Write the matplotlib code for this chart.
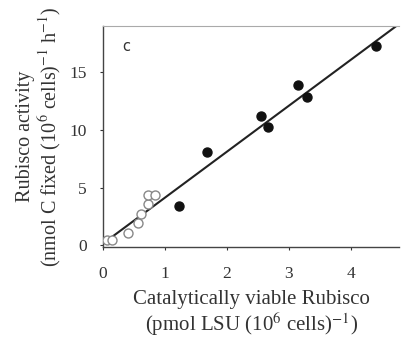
import matplotlib
matplotlib.use("Agg")
import matplotlib.pyplot as plt
import numpy as np

# Data
filled_x = [1.22, 1.675, 2.55, 2.66, 3.15, 3.30, 4.41]
filled_y = [3.42, 8.06, 11.2, 10.27, 13.9, 12.85, 17.3]
open_x = [0.065, 0.145, 0.41, 0.56, 0.62, 0.72, 0.73, 0.845]
open_y = [0.43, 0.45, 1.09, 1.95, 2.67, 3.6, 4.4, 4.4]
fit_x = [0.05, 4.75]
fit_slope = 3.98
fit_intercept = 0.15
xticks = [0, 1, 2, 3, 4]
yticks = [0, 5, 10, 15]

plt.rcParams['font.family'] = ['Liberation Serif', 'DejaVu Serif']
plt.rcParams['mathtext.fontset'] = 'stix'

fig = plt.figure(figsize=(4.04, 3.46), dpi=100)
ax = fig.add_axes([0.255, 0.286, 0.733, 0.639])

fx = np.array(fit_x)
ax.plot(fx, fit_intercept + fit_slope * fx, color='#222222', lw=1.5, zorder=2)
ax.scatter(open_x, open_y, s=42, facecolors='white', edgecolors='#888888', linewidths=1.0, zorder=3)
ax.scatter(filled_x, filled_y, s=42, color='#111111', zorder=4)

ax.set_xlim(0, 4.78)
ax.set_ylim(-0.15, 19)
ax.set_xticks(xticks)
ax.set_yticks(yticks)
ax.tick_params(direction='out', length=2.5, width=0.8, labelsize=12.5, colors='#333333')
ax.tick_params(axis='x', pad=11)
ax.tick_params(axis='y', pad=9)
for s in ['left', 'bottom']:
    ax.spines[s].set_color('#444444')
    ax.spines[s].set_linewidth(1.0)
ax.spines['top'].set_color('#aaaaaa')
ax.spines['top'].set_linewidth(0.8)
ax.spines['right'].set_visible(False)

ax.text(0.38, 17.2, 'c', family='DejaVu Sans', fontsize=10.5, color='#333333', va='center', ha='center')

ax.set_xlabel('Catalytically viable Rubisco\n(pmol LSU (10$^6$ cells)$^{-1}$)', fontsize=15,
              color='#333333', labelpad=6, linespacing=1.05)
ax.set_ylabel('Rubisco activity\n(nmol C fixed (10$^6$ cells)$^{-1}$ h$^{-1}$)', fontsize=14.5,
              color='#333333', labelpad=4, linespacing=1.1)

fig.savefig('out.png', dpi=100)
